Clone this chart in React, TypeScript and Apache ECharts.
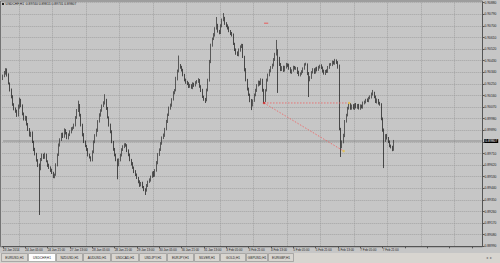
import React, { useEffect, useRef } from "react";
import * as echarts from "echarts";

const symbolTitle = "USDCHF,H1";
const lastOHLC = ["0.89740", "0.89815", "0.89731", "0.89807"];
const timeLabels = [
  "23 Jan 2014", "24 Jan 05:00", "24 Jan 21:00", "27 Jan 13:00", "28 Jan 05:00", "28 Jan 21:00",
  "29 Jan 13:00", "30 Jan 05:00", "30 Jan 21:00", "31 Jan 13:00", "3 Feb 05:00", "3 Feb 21:00",
  "4 Feb 13:00", "5 Feb 05:00", "5 Feb 21:00", "6 Feb 13:00", "7 Feb 05:00", "7 Feb 21:00",
];
// prices in points (1e-5)
const firstOpen = 90290;
const closes = [
  90310, 90335, 90362, 90318, 90255, 90205, 90150, 90090, 90060, 90035,
  90005, 90070, 90125, 90080, 90020, 89975, 89990, 89940, 89895, 89850,
  89870, 89800, 89740, 89705, 89660, 89620, 89590, 89660, 89700, 89680,
  89700, 89650, 89620, 89600, 89580, 89560, 89530, 89545, 89620, 89700,
  89775, 89820, 89860, 89840, 89890, 89870, 89830, 89855, 89880, 89900,
  89910, 89930, 89990, 90040, 90085, 90010, 89930, 89855, 89800, 89770,
  89740, 89700, 89680, 89660, 89720, 89800, 89850, 89890, 89960, 90010,
  90045, 90080, 90100, 90125, 90060, 89990, 89930, 89880, 89800, 89740,
  89700, 89660, 89620, 89660, 89700, 89740, 89760, 89780, 89775, 89730,
  89700, 89660, 89630, 89600, 89570, 89545, 89520, 89490, 89465, 89480,
  89450, 89430, 89425, 89460, 89490, 89505, 89530, 89560, 89540, 89580,
  89640, 89700, 89740, 89790, 89830, 89850, 89900, 89960, 90010, 90060,
  90085, 90130, 90180, 90200, 90290, 90350, 90395, 90380, 90355, 90320,
  90280, 90265, 90250, 90230, 90240, 90220, 90250, 90240, 90260, 90270,
  90280, 90230, 90200, 90150, 90130, 90125, 90200, 90280, 90420, 90550,
  90600, 90630, 90680, 90705, 90660, 90645, 90700, 90745, 90760, 90720,
  90700, 90685, 90660, 90640, 90630, 90560, 90515, 90490, 90475, 90510,
  90540, 90550, 90460, 90360, 90280, 90210, 90165, 90120, 90085, 90120,
  90165, 90200, 90240, 90265, 90250, 90280, 90200, 90120, 90200, 90280,
  90320, 90350, 90380, 90395, 90440, 90480, 90510, 90450, 90400, 90360,
  90380, 90355, 90380, 90400, 90395, 90370, 90340, 90355, 90380, 90370,
  90370, 90340, 90320, 90330, 90345, 90370, 90400, 90400, 90330, 90280,
  90300, 90340, 90360, 90340, 90370, 90360, 90380, 90390, 90375, 90350,
  90330, 90350, 90345, 90380, 90400, 90400, 90420, 90410, 90430, 90415,
  90380, 89900, 89760, 89800, 89850, 89960, 90010, 90060, 90090, 90060,
  90080, 90060, 90090, 90070, 90085, 90060, 90080, 90070, 90100, 90110,
  90125, 90120, 90140, 90150, 90170, 90180, 90150, 90110, 90125, 90100,
  90090, 89980, 89890, 89810, 89850, 89830, 89800, 89770, 89760, 89740,
  89807,
];
const upperWicks = [
  12, 15, 10, 8, 14, 6, 9, 12, 10, 7, 15, 20, 18, 9, 11, 8, 13, 10, 7, 12,
  9, 11, 8, 14, 10, 6, 12, 15, 10, 8, 16, 9, 7, 11, 10, 12, 8, 9, 14, 10,
  13, 8, 10, 12, 15, 9, 7, 11, 10, 14, 8, 12, 10, 15, 35, 9, 8, 11, 13, 10,
  7, 12, 9, 8, 14, 11, 10, 13, 9, 12, 8, 10, 15, 45, 9, 11, 8, 12, 10, 7,
  13, 9, 10, 12, 8, 11, 14, 9, 10, 7, 12, 10, 8, 13, 9, 11, 10, 8, 12, 9,
  11, 8, 10, 13, 9, 12, 8, 10, 14, 9, 11, 13, 10, 8, 12, 15, 9, 11, 10, 14,
  12, 9, 13, 10, 15, 11, 75, 9, 10, 12, 8, 11, 9, 13, 10, 8, 12, 9, 11, 10,
  14, 8, 10, 12, 9, 11, 13, 10, 16, 12, 9, 14, 10, 64, 11, 9, 13, 12, 40, 10,
  9, 12, 10, 8, 13, 11, 9, 10, 12, 15, 9, 11, 10, 8, 12, 9, 11, 10, 13, 9,
  10, 12, 8, 11, 9, 13, 10, 12, 9, 11, 10, 14, 8, 12, 10, 11, 81, 9, 10, 12,
  8, 11, 10, 13, 9, 12, 10, 8, 11, 9, 13, 10, 12, 9, 11, 8, 10, 14, 9, 12,
  10, 9, 12, 11, 8, 13, 10, 9, 12, 10, 11, 8, 13, 9, 10, 12, 11, 9, 14, 10,
  12, 20, 9, 11, 13, 10, 8, 12, 9, 11, 10, 13, 8, 12, 9, 10, 11, 9, 13, 10,
  9, 12, 10, 11, 13, 23, 9, 10, 12, 8, 11, 10, 9, 14, 10, 12, 8, 11, 9, 10,
  8,
];
const lowerWicks = [
  10, 8, 13, 11, 9, 14, 12, 10, 15, 9, 11, 8, 12, 10, 14, 9, 11, 13, 10, 8,
  12, 9, 11, 10, 13, 15, 357, 10, 9, 12, 11, 8, 14, 10, 13, 9, 11, 12, 8, 10,
  9, 11, 13, 10, 8, 12, 9, 11, 10, 14, 12, 9, 10, 11, 8, 13, 10, 12, 9, 11,
  10, 13, 9, 12, 11, 8, 10, 9, 12, 10, 14, 11, 9, 10, 12, 8, 11, 13, 10, 9,
  12, 10, 110, 9, 11, 13, 10, 8, 12, 9, 11, 10, 13, 9, 12, 10, 8, 11, 14, 10,
  9, 12, 37, 11, 10, 8, 13, 9, 12, 10, 11, 14, 9, 10, 12, 8, 11, 10, 13, 9,
  10, 12, 9, 11, 8, 13, 10, 12, 9, 11, 10, 14, 9, 12, 10, 8, 11, 13, 10, 9,
  12, 10, 13, 9, 11, 23, 10, 8, 12, 9, 11, 10, 13, 9, 12, 10, 8, 11, 9, 12,
  10, 13, 9, 11, 12, 8, 10, 14, 9, 11, 10, 12, 9, 13, 10, 11, 8, 12, 38, 10,
  9, 11, 12, 10, 13, 8, 11, 18, 10, 9, 12, 11, 10, 13, 9, 12, 10, 270, 11, 11,
  10, 12, 9, 11, 13, 10, 8, 12, 10, 9, 11, 13, 10, 12, 9, 11, 10, 8, 12, 132,
  10, 11, 9, 12, 10, 13, 9, 11, 10, 12, 8, 11, 10, 9, 13, 10, 12, 9, 11, 10,
  12, 10, 77, 9, 11, 13, 10, 12, 9, 11, 10, 8, 12, 10, 13, 9, 11, 10, 12, 9,
  11, 10, 12, 9, 13, 10, 11, 8, 12, 10, 9, 12, 11, 213, 10, 12, 9, 11, 10, 12,
  9,
];
const totalSlots = 344;
const priceMin = 0.8899;
const priceMax = 0.9088;
const priceStep = 0.0009;
const bidPrice = 0.89807;
const trendStartBar = 187;
const trendStartPrice = 0.90102;
const hLineEndBar = 248;
const diagEndBar = 244;
const diagEndPrice = 0.89729;
const markBars = [187, 190];
const markPrice = 0.90721;
const tabs = [
  "EURUSD,H1", "USDCHF,H1", "NZDUSD,H1", "AUDUSD,H1", "USDCAD,H1", "USDJPY,H1",
  "EURJPY,H1", "SILVER,H1", "GOLD,H1", "GBPUSD,H1", "EURGBP,H1",
];
const activeTab = 1;

export default function App() {
  const ref = useRef<HTMLDivElement>(null);
  useEffect(() => {
    if (!ref.current) return;
    const chart = echarts.init(ref.current, undefined, { renderer: "svg" });
    const cats: string[] = [];
    const candles: any[] = [];
    for (let i = 0; i < totalSlots; i++) {
      cats.push(String(i));
      if (i < closes.length) {
        const o = i === 0 ? firstOpen : closes[i - 1];
        const c = closes[i];
        const hi = Math.max(o, c) + upperWicks[i];
        const lo = Math.min(o, c) - lowerWicks[i];
        candles.push([o / 1e5, c / 1e5, lo / 1e5, hi / 1e5]);
      } else {
        candles.push("-");
      }
    }
    const font = "Liberation Sans";
    const tabWidths = [27, 28, 27, 28, 28, 28, 27, 26, 26, 22, 26];
    const tabGraphics: any[] = [];
    let tx = 1;
    tabs.forEach((t, k) => {
      const w = tabWidths[k];
      tabGraphics.push({
        type: "rect",
        shape: { x: tx + 0.5, y: 253.5, width: w - 1, height: 8 },
        style: { fill: k === activeTab ? "#ffffff" : "#d8d5d0", stroke: "#8a8a8a", lineWidth: 0.6 },
      });
      tabGraphics.push({
        type: "text",
        x: tx + w / 2,
        y: 257.5,
        style: { text: t, fontSize: 3.2, fontFamily: font, fill: "#222", align: "center", verticalAlign: "middle" },
      });
      tx += w;
    });
    chart.setOption({
      animation: false,
      backgroundColor: "#c6c6c6",
      textStyle: { fontFamily: font },
      grid: { left: 0.5, top: 2.7, width: 482, height: 243.6 },
      xAxis: {
        type: "category",
        data: cats,
        boundaryGap: true,
        axisLine: { show: true, lineStyle: { color: "#555555", width: 1 } },
        axisTick: { show: true, interval: 15, alignWithLabel: true, length: 2, lineStyle: { color: "#555555" } },
        axisLabel: {
          interval: 15,
          formatter: (_v: string, idx: number) => timeLabels[idx / 16] ?? "",
          fontSize: 3,
          color: "#222222",
          align: "left",
          margin: 2,
          fontFamily: font,
        },
        splitLine: {
          show: true,
          interval: (idx: number) => idx % 24 === 12,
          lineStyle: { color: "#9a9a9a", type: [1, 1], width: 0.8 },
        },
      },
      yAxis: {
        type: "value",
        position: "right",
        min: priceMin,
        max: priceMax,
        interval: priceStep,
        axisLine: { show: true, lineStyle: { color: "#555555" } },
        axisTick: { show: true, length: 2, lineStyle: { color: "#555555" } },
        axisLabel: {
          formatter: (v: number) => v.toFixed(5),
          fontSize: 3.3,
          color: "#222222",
          margin: 2,
          fontFamily: font,
        },
        splitLine: { show: true, lineStyle: { color: "#9a9a9a", type: [1, 1], width: 0.8 } },
      },
      series: [
        {
          type: "line",
          data: [[0, bidPrice], [totalSlots - 1, bidPrice]],
          symbol: "none",
          silent: true,
          lineStyle: { color: "#7c7c7c", type: "solid", width: 0.8 },
          endLabel: {
            show: true,
            formatter: bidPrice.toFixed(5),
            color: "#ffffff",
            backgroundColor: "#000000",
            fontSize: 3.3,
            padding: [0.5, 1],
            distance: 2.5,
            fontFamily: font,
          },
          z: 2,
        },
        {
          type: "candlestick",
          data: candles,
          barWidth: 1.1,
          itemStyle: {
            color: "#6a6a6a",
            color0: "#111111",
            borderColor: "#2a2a2a",
            borderColor0: "#111111",
            borderWidth: 0.7,
          },
          z: 3,
        },
        {
          type: "line",
          data: [[trendStartBar, trendStartPrice], [hLineEndBar, trendStartPrice]],
          symbol: "none",
          lineStyle: { color: "#f06060", type: [1.5, 1.5], width: 0.8 },
          z: 5,
        },
        {
          type: "line",
          data: [[trendStartBar, trendStartPrice], [diagEndBar, diagEndPrice]],
          symbol: "none",
          lineStyle: { color: "#f06060", type: [1.5, 1.5], width: 0.8 },
          z: 5,
        },
        {
          type: "line",
          data: markBars.map((b) => [b, markPrice]),
          symbol: "none",
          lineStyle: { color: "#f04040", width: 0.8 },
          z: 5,
        },
        {
          type: "scatter",
          data: [[hLineEndBar, trendStartPrice], [diagEndBar, diagEndPrice]],
          symbolSize: 2.5,
          itemStyle: { color: "#e6c040" },
          z: 6,
        },
        {
          type: "scatter",
          data: [[trendStartBar, trendStartPrice]],
          symbolSize: 2.5,
          itemStyle: { color: "#d02828" },
          z: 6,
        },
      ],
      graphic: [
        {
          type: "rect",
          shape: { x: 0.5, y: 1, width: 482, height: 245.8 },
          style: { fill: "none", stroke: "#606060", lineWidth: 0.8 },
          silent: true,
        },
        { type: "rect", shape: { x: 2, y: 3, width: 2, height: 2 }, style: { fill: "#222" } },
        {
          type: "text",
          x: 5.5,
          y: 4,
          style: {
            text: symbolTitle + "  " + lastOHLC.join(" "),
            fontSize: 3.3,
            fontFamily: font,
            fill: "#111",
            verticalAlign: "middle",
          },
        },
        { type: "rect", shape: { x: 0, y: 253, width: 500, height: 10 }, style: { fill: "#d8d5d0" } },
        ...tabGraphics,
        {
          type: "text",
          x: 486,
          y: 257.5,
          style: { text: "◂  ▸", fontSize: 4, fill: "#777", verticalAlign: "middle" },
        },
      ],
    });
    return () => chart.dispose();
  }, []);
  return <div ref={ref} style={{ position: "fixed", left: 0, top: 0, width: 500, height: 263 }} />;
}
